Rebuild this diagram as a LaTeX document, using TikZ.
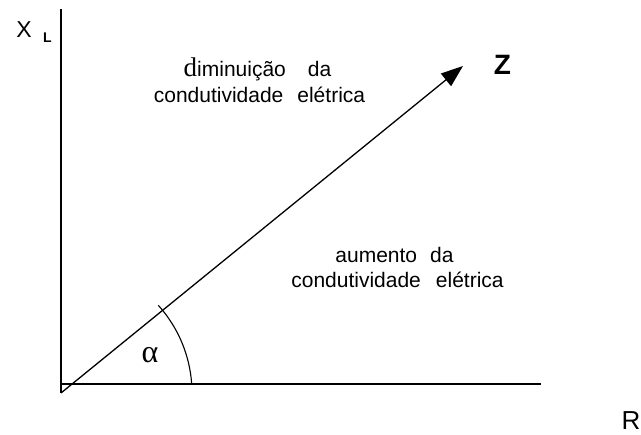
\documentclass[tikz,border=0pt]{standalone}
\usepackage{fontspec}
\setmainfont{Liberation Sans}
\newfontfamily\timesfont{Liberation Serif}
\usetikzlibrary{arrows.meta}

\begin{document}
\begin{tikzpicture}[
        x=1pt, y=-1pt,
        axis/.style={draw, line width=1.3pt},
        vector/.style={draw, line width=1.3pt, -{Triangle[length=22pt, width=16pt]}},
        txt/.style={anchor=base, inner sep=0pt, font=\fontsize{21}{25}\selectfont},
        every node/.style={inner sep=0pt}
    ]
    \useasboundingbox (0,0) rectangle (641,435);
    % axes
    \coordinate (top) at (61,9);
    \coordinate (bottom) at (61,393);
    \coordinate (origin) at (61,384);
    \coordinate (right) at (541,384);
    \draw[axis] (top) -- (bottom);
    \draw[axis] (origin) -- (right);
    % impedance vector
    \coordinate (start) at (61,393);
    \coordinate (tip) at (463,66);
    \draw[vector] (start) -- (tip);
    % angle
    \draw[line width=1.1pt] (start) ++(-4:131) arc[start angle=-4, end angle=-42, radius=131];
    \node[anchor=base, font=\timesfont\fontsize{32}{32}\selectfont] (alpha) at (150,363) {α};
    % axis labels
    \node[anchor=base, font=\fontsize{23}{23}\selectfont] (xl) at (24,38) {X};
    \node[anchor=base, font=\bfseries\fontsize{14}{14}\selectfont] (xlsub) at (47.5,43) {L};
    \node[anchor=base, font=\bfseries\fontsize{28}{28}\selectfont] (zlab) at (502.5,75) {Z};
    \node[anchor=base, font=\fontsize{26}{26}\selectfont] (rlab) at (631,430) {R};
    % regions
    \node[txt] (dim1) at (257.5,77) {{\timesfont\fontsize{27}{27}\selectfont d}iminuição\hspace{22pt}da};
    \node[txt] (dim2) at (259.5,103) {condutividade\hspace{14pt}elétrica};
    \node[txt] (aum1) at (394.5,263) {aumento\hspace{13pt}da};
    \node[txt] (aum2) at (397.5,288) {condutividade\hspace{15pt}elétrica};
\end{tikzpicture}
\end{document}
